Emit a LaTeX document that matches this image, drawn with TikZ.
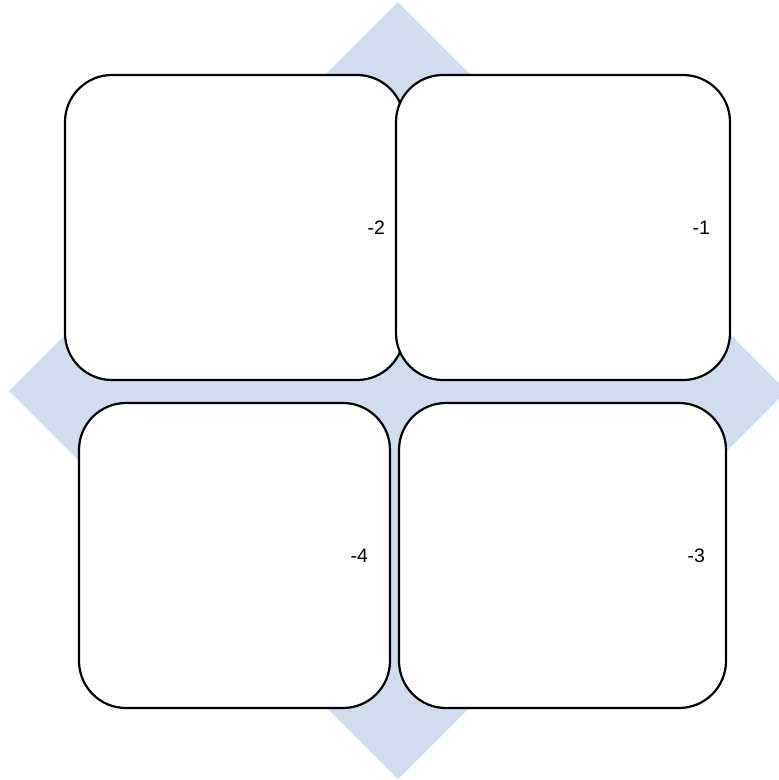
\documentclass[tikz,border=0pt]{standalone}
\usepackage{fontspec}
\setmainfont{Liberation Sans}
\usetikzlibrary{positioning}
\definecolor{diamondblue}{RGB}{208,221,238}
\tikzstyle{tile} = [rectangle, draw=black, fill=white, line width=2.2pt,
    rounded corners=47pt, minimum height=305pt, inner sep=0pt]
\tikzstyle{num} = [inner sep=0pt, font=\fontsize{19.5}{22}\selectfont]

\begin{document}
\begin{tikzpicture}[%
x=1pt,y=-1pt,
]
\useasboundingbox (0,0) rectangle (779,780);
\clip (0,0) rectangle (779,780);

% background diamond
\coordinate (top) at (398,2);
\coordinate (left) at (9,391);
\coordinate (bottom) at (398,779);
\coordinate (right) at (787,391);
\fill[diamondblue] (top) -- (right) -- (bottom) -- (left) -- cycle;

\node[tile,minimum width=339pt] (q2) at (234.5,227.5) {};
\node[tile,minimum width=334pt] (q1) at (563,227.5) {};
\node[tile,minimum width=311pt] (q4) at (234.5,555.5) {};
\node[tile,minimum width=327pt] (q3) at (562.5,555.5) {};

\node[num,left=20pt of q2.east] (n2) {-2};
\node[num,left=21pt of q1.east] (n1) {-1};
\node[num,left=23pt of q4.east] (n4) {-4};
\node[num,left=22pt of q3.east] (n3) {-3};

\end{tikzpicture}
\end{document}
